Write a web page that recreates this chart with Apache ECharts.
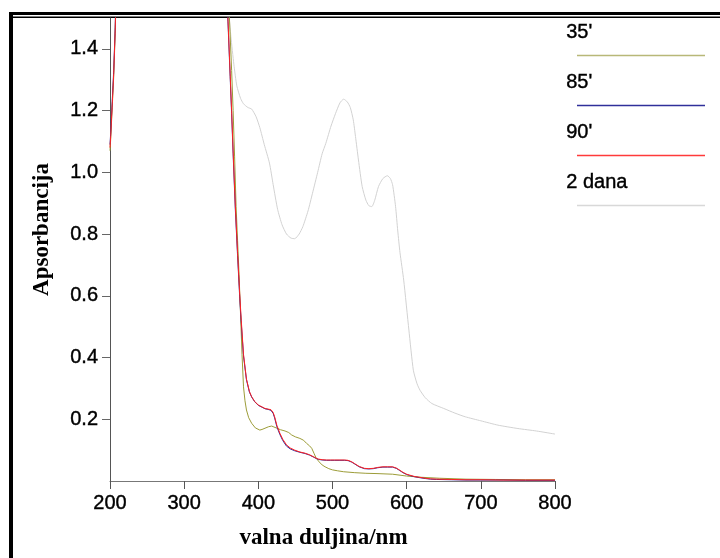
<!DOCTYPE html>
<html><head><meta charset="utf-8">
<script src="https://cdn.jsdelivr.net/npm/echarts@6/dist/echarts.min.js"></script>
<style>html,body{margin:0;padding:0;background:#fff}#c{width:720px;height:558px}</style>
</head><body><div id="c"></div>
<script>
const seriesNames = ["35'", "85'", "90'", "2 dana"];
const seriesColors = ['#9c9c38', '#28289a', '#ff2222', '#d2d2d2'];
const legendColors = ['#b8b878', '#30309a', '#ff3a3a', '#d8d8d8'];
const xTicks = [200, 300, 400, 500, 600, 700, 800];
const yTicks = [0.2, 0.4, 0.6, 0.8, 1.0, 1.2, 1.4];

// 90' and 85' share one wavelength grid
const wlA = [200,201,202,203,204,205,206,207,208,210,215,250,300,350,356,359,362,364,366,369,372,375,377,380,384,388,391,395,400,405,409,413,417,420,422,425,429,433,438,443,449,456,463,469,474,478,481,486,492,497,503,510,516,521,526,530,536,543,549,555,561,568,574,581,586,590,595,600,604,610,617,625,632,640,660,680,700,730,760,800];
const abs90 = [1.08,1.12,1.17,1.22,1.27,1.32,1.39,1.46,1.56,1.75,2.3,3.0,3.0,2.2,1.72,1.5,1.32,1.2,1.07,0.89,0.74,0.6,0.52,0.41,0.33,0.29,0.273,0.258,0.246,0.24,0.235,0.233,0.231,0.222,0.208,0.18,0.155,0.135,0.117,0.107,0.1,0.094,0.09,0.085,0.079,0.074,0.071,0.069,0.068,0.068,0.068,0.068,0.068,0.067,0.062,0.056,0.047,0.041,0.04,0.041,0.044,0.046,0.046,0.046,0.042,0.036,0.028,0.022,0.019,0.015,0.012,0.009,0.007,0.006,0.005,0.004,0.004,0.003,0.003,0.003];
const abs85 = [1.09,1.13,1.18,1.23,1.28,1.33,1.40,1.47,1.57,1.76,2.3,3.0,3.0,2.2,1.71,1.49,1.31,1.19,1.06,0.88,0.73,0.59,0.51,0.405,0.328,0.288,0.272,0.257,0.245,0.239,0.234,0.232,0.229,0.219,0.204,0.176,0.151,0.131,0.113,0.104,0.098,0.093,0.089,0.084,0.078,0.073,0.07,0.068,0.067,0.067,0.067,0.067,0.067,0.066,0.061,0.055,0.046,0.04,0.039,0.04,0.043,0.045,0.045,0.045,0.041,0.035,0.027,0.021,0.018,0.014,0.011,0.008,0.006,0.005,0.004,0.003,0.003,0.003,0.002,0.002];

const wl35 = [200,201,202,203,204,205,206,207,208,210,215,250,300,350,358,361,364,366,368,370,372,374,376,378,380,382,384,387,391,396,402,405,409,414,418,421,425,430,436,441,445,450,456,461,465,469,472,475,478,482,486,490,495,500,507,515,530,545,560,581,600,620,644,680,720,760,800];
const abs35 = [1.07,1.11,1.16,1.21,1.26,1.31,1.38,1.45,1.55,1.74,2.3,3.0,3.0,2.2,1.72,1.5,1.33,1.2,1.05,0.89,0.78,0.67,0.54,0.41,0.305,0.26,0.23,0.205,0.187,0.172,0.165,0.167,0.171,0.176,0.178,0.175,0.171,0.166,0.162,0.157,0.149,0.143,0.138,0.132,0.122,0.114,0.106,0.09,0.074,0.062,0.052,0.046,0.04,0.036,0.033,0.03,0.027,0.025,0.024,0.022,0.016,0.012,0.009,0.006,0.005,0.004,0.004];

const wl2d = [350,355,360,363,367,371,376,380,386,391,397,402,408,415,420,426,432,438,444,449,455,460,467,473,480,486,491,498,504,510,515,520,524,528,531,535,540,545,549,553,557,562,568,574,578,581,585,588,591,596,603,609,614,618,625,634,650,665,679,700,723,750,775,800];
const abs2d = [2.0,1.62,1.52,1.44,1.35,1.28,1.24,1.222,1.21,1.205,1.18,1.145,1.09,1.03,0.96,0.88,0.83,0.8,0.787,0.785,0.8,0.824,0.875,0.932,1.0,1.06,1.094,1.15,1.19,1.225,1.237,1.228,1.21,1.17,1.116,1.04,0.954,0.91,0.892,0.889,0.91,0.954,0.98,0.989,0.98,0.96,0.89,0.81,0.74,0.651,0.489,0.359,0.315,0.294,0.27,0.251,0.235,0.22,0.208,0.195,0.181,0.17,0.162,0.152];

const pairs = (xs, ys) => xs.map((x, i) => [x, ys[i]]);
const seriesData = [pairs(wl35, abs35), pairs(wlA, abs85), pairs(wlA, abs90), pairs(wl2d, abs2d)];

const chart = echarts.init(document.getElementById('c'), null, {renderer: 'canvas'});

const legendGraphics = [];
seriesNames.forEach((n, i) => {
  legendGraphics.push({
    type: 'text', left: 566, top: 22 + 50 * i,
    style: {text: n, fill: '#000', font: '20px "Liberation Sans", Arial, sans-serif', stroke: '#000', lineWidth: 0.4}
  });
  legendGraphics.push({
    type: 'line', shape: {x1: 577, y1: 55.5 + 50 * i, x2: 705, y2: 55.5 + 50 * i},
    style: {stroke: legendColors[i], lineWidth: 1.5}
  });
});
// frame
legendGraphics.push({type: 'rect', shape: {x: 9, y: 12, width: 720, height: 3}, style: {fill: '#000'}});
legendGraphics.push({type: 'rect', shape: {x: 9, y: 16.5, width: 720, height: 1.5}, style: {fill: '#000'}});
legendGraphics.push({type: 'rect', shape: {x: 9, y: 12, width: 4, height: 560}, style: {fill: '#000'}});

const labelFont = {fontFamily: '"Liberation Sans", Arial, sans-serif', fontSize: 20, color: '#000', textBorderColor: '#000', textBorderWidth: 0.4};
const titleFont = {fontFamily: '"Liberation Serif", "Times New Roman", serif', fontSize: 23, fontWeight: 'bold', color: '#000'};

chart.setOption({
  animation: false,
  backgroundColor: '#fff',
  grid: {left: 110, right: 165, top: 18, bottom: 77, containLabel: false},
  xAxis: {
    type: 'value', min: 200, max: 800, interval: 100,
    name: 'valna duljina/nm', nameLocation: 'middle', nameGap: 46,
    nameTextStyle: Object.assign({}, titleFont, {padding: [0, 18, 0, 0]}),
    axisLine: {show: true, lineStyle: {color: '#777', width: 1}},
    axisTick: {show: true, length: 8, lineStyle: {color: '#555'}},
    axisLabel: Object.assign({margin: 12, customValues: xTicks}, labelFont),
    splitLine: {show: false}
  },
  yAxis: {
    type: 'value', min: 0, max: 1.5,
    name: 'Apsorbancija', nameLocation: 'middle', nameGap: 56,
    nameTextStyle: Object.assign({}, titleFont, {padding: [0, 0, 0, 40]}),
    axisLine: {show: true, onZero: false, lineStyle: {color: '#555', width: 1}},
    axisTick: {show: true, length: 8, lineStyle: {color: '#666'}, customValues: yTicks},
    axisLabel: Object.assign({margin: 12, customValues: yTicks, formatter: v => v.toFixed(1)}, labelFont),
    splitLine: {show: false}
  },
  graphic: legendGraphics,
  series: seriesNames.map((n, i) => ({
    name: n, type: 'line', data: seriesData[i], showSymbol: false, symbol: 'none',
    clip: true, smooth: i === 3 ? 0.2 : false,
    lineStyle: {color: seriesColors[i], width: 1},
    itemStyle: {color: seriesColors[i]},
    z: i === 3 ? 1 : 2 + i
  }))
});
</script>
</body></html>
